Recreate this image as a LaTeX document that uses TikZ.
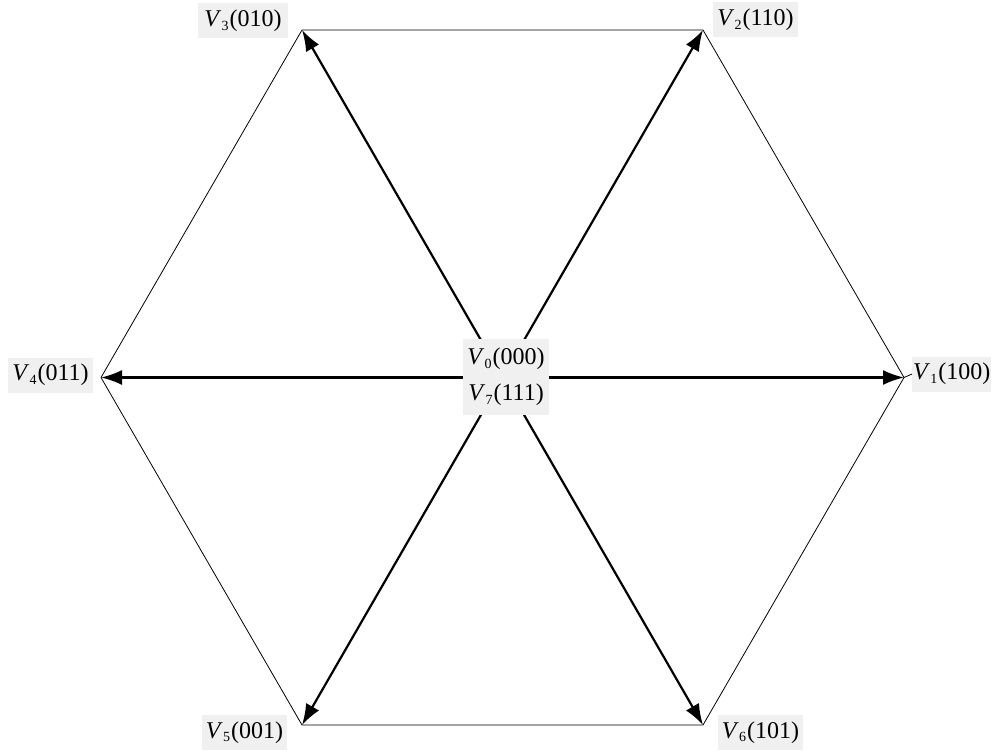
\documentclass[tikz,border=0pt]{standalone}
\usepackage{fontspec}
\setmainfont{Liberation Serif}
\usetikzlibrary{arrows.meta}
\definecolor{lbg}{RGB}{240,240,240}
\newcommand{\vlab}[2]{\textit{V}\kern0.3pt\raisebox{-0.3ex}{\fontsize{14}{14}\selectfont #1}\kern1pt(#2)}
\begin{document}
\begin{tikzpicture}[x=1pt,y=-1pt,
  hexline/.style={line width=0.8pt,black},
  vecarrow/.style={line width=2.2pt,black,-{Latex[length=21pt,width=15pt]}},
  labelbox/.style={fill=lbg,inner sep=2pt,minimum width=85pt,minimum height=35pt,
     font=\fontsize{24}{36}\selectfont},
  centerbox/.style={fill=lbg,inner sep=3pt,align=center,minimum width=86pt,minimum height=76pt,
     font=\fontsize{24}{36}\selectfont}]
\useasboundingbox (0,0) rectangle (992,752);
\coordinate (c) at (502.5,377.5);
\coordinate (v1) at (904,377.5);
\coordinate (v2) at (703,30);
\coordinate (v3) at (302,30);
\coordinate (v4) at (101,377.5);
\coordinate (v5) at (302,725);
\coordinate (v6) at (703,725);
\draw[hexline] (v1) -- (v2) -- (v3) -- (v4) -- (v5) -- (v6) -- cycle;
\foreach \i in {1,...,6} \draw[vecarrow] (c) -- (v\i);
\node[centerbox] (l0) at (506,377) {\vlab{0}{000}\\\vlab{7}{111}};
\node[labelbox,anchor=west,minimum width=78pt,inner xsep=1pt] (l1) at (912,374) {\vlab{1}{100}};
\node[labelbox] (l2) at (755.5,20) {\vlab{2}{110}};
\node[labelbox,minimum width=90pt] (l3) at (243,21) {\vlab{3}{010}};
\node[labelbox] (l4) at (50.5,375) {\vlab{4}{011}};
\node[labelbox] (l5) at (244.5,732.5) {\vlab{5}{001}};
\node[labelbox] (l6) at (760.5,732.5) {\vlab{6}{101}};
\draw[hexline] (v1) -- (l1.west);
\end{tikzpicture}
\end{document}
